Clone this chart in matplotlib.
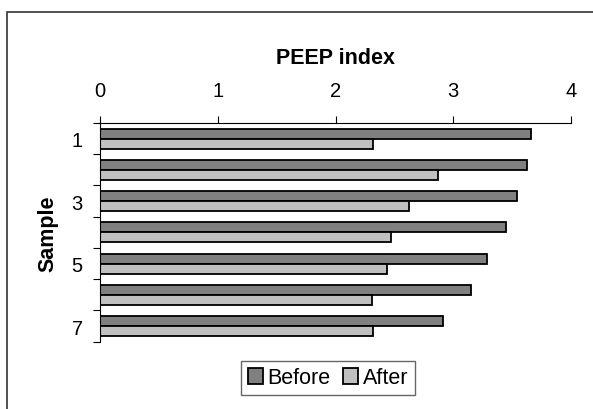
import matplotlib
matplotlib.use("Agg")
import matplotlib.pyplot as plt
from matplotlib.patches import Rectangle
import numpy as np

plt.rcParams["font.family"] = ["Liberation Sans", "DejaVu Sans"]

samples = ["1", "2", "3", "4", "5", "6", "7"]
before = [3.66, 3.63, 3.54, 3.45, 3.29, 3.15, 2.91]
after = [2.32, 2.87, 2.62, 2.47, 2.44, 2.31, 2.32]
x_ticks = [0, 1, 2, 3, 4]

_DARK = "#808080"
_LIGHT = "#c0c0c0"

fig = plt.figure(figsize=(5.93, 4.10), dpi=100)
ax = fig.add_axes([100 / 593, 1 - 342.7 / 410, 471 / 593, 218.7 / 410])

pos = np.arange(len(samples))
bar_h = 0.32
ax.barh(pos - bar_h / 2, before, height=bar_h, color=_DARK,
        edgecolor="black", linewidth=1.3, label="Before")
ax.barh(pos + bar_h / 2, after, height=bar_h, color=_LIGHT,
        edgecolor="black", linewidth=1.3, label="After")

ax.set_xlim(0, 4)
ax.set_ylim(len(samples) - 0.5, -0.5)

ax.xaxis.tick_top()
ax.xaxis.set_label_position("top")
ax.set_xticks(x_ticks)
ax.set_xticklabels([str(t) for t in x_ticks], fontsize=14.5)
ax.tick_params(axis="x", direction="out", length=5, width=0.8, pad=11.5)
ax.set_xlabel("PEEP index", fontsize=15.5, fontweight="bold", labelpad=13)

# ticks between categories, labels on every other sample
ax.set_yticks(np.arange(-0.5, len(samples), 1.0))
ax.set_yticklabels([])
ax.set_yticks(pos[::2], minor=True)
ax.set_yticklabels(samples[::2], minor=True, fontsize=14.5)
ax.tick_params(axis="y", which="major", direction="out", length=5, width=0.8)
ax.tick_params(axis="y", which="minor", length=0, pad=12.5)
ax.set_ylabel("Sample", fontsize=15.5, fontweight="bold", labelpad=9)

ax.spines["right"].set_visible(False)
ax.spines["bottom"].set_visible(False)
for s in ("top", "left"):
    ax.spines[s].set_color("black")
    ax.spines[s].set_linewidth(0.8)

leg = fig.legend(loc="center", bbox_to_anchor=(328 / 593, 1 - 379 / 410),
                 ncol=2, fontsize=15.5, frameon=True, fancybox=False,
                 handlelength=0.7, handleheight=0.7, handletextpad=0.2,
                 columnspacing=0.6, borderpad=0.3, borderaxespad=0)
leg.get_frame().set_edgecolor("#404040")
leg.get_frame().set_linewidth(1.0)

# outer chart-area frame, cut off at the right and bottom
fig.patches.append(Rectangle((7 / 593, -0.1), 1.2, 1 - 13 / 410 + 0.1,
                             transform=fig.transFigure, fill=False,
                             edgecolor="#333333", linewidth=1.2))

fig.savefig("out.png", dpi=100)
